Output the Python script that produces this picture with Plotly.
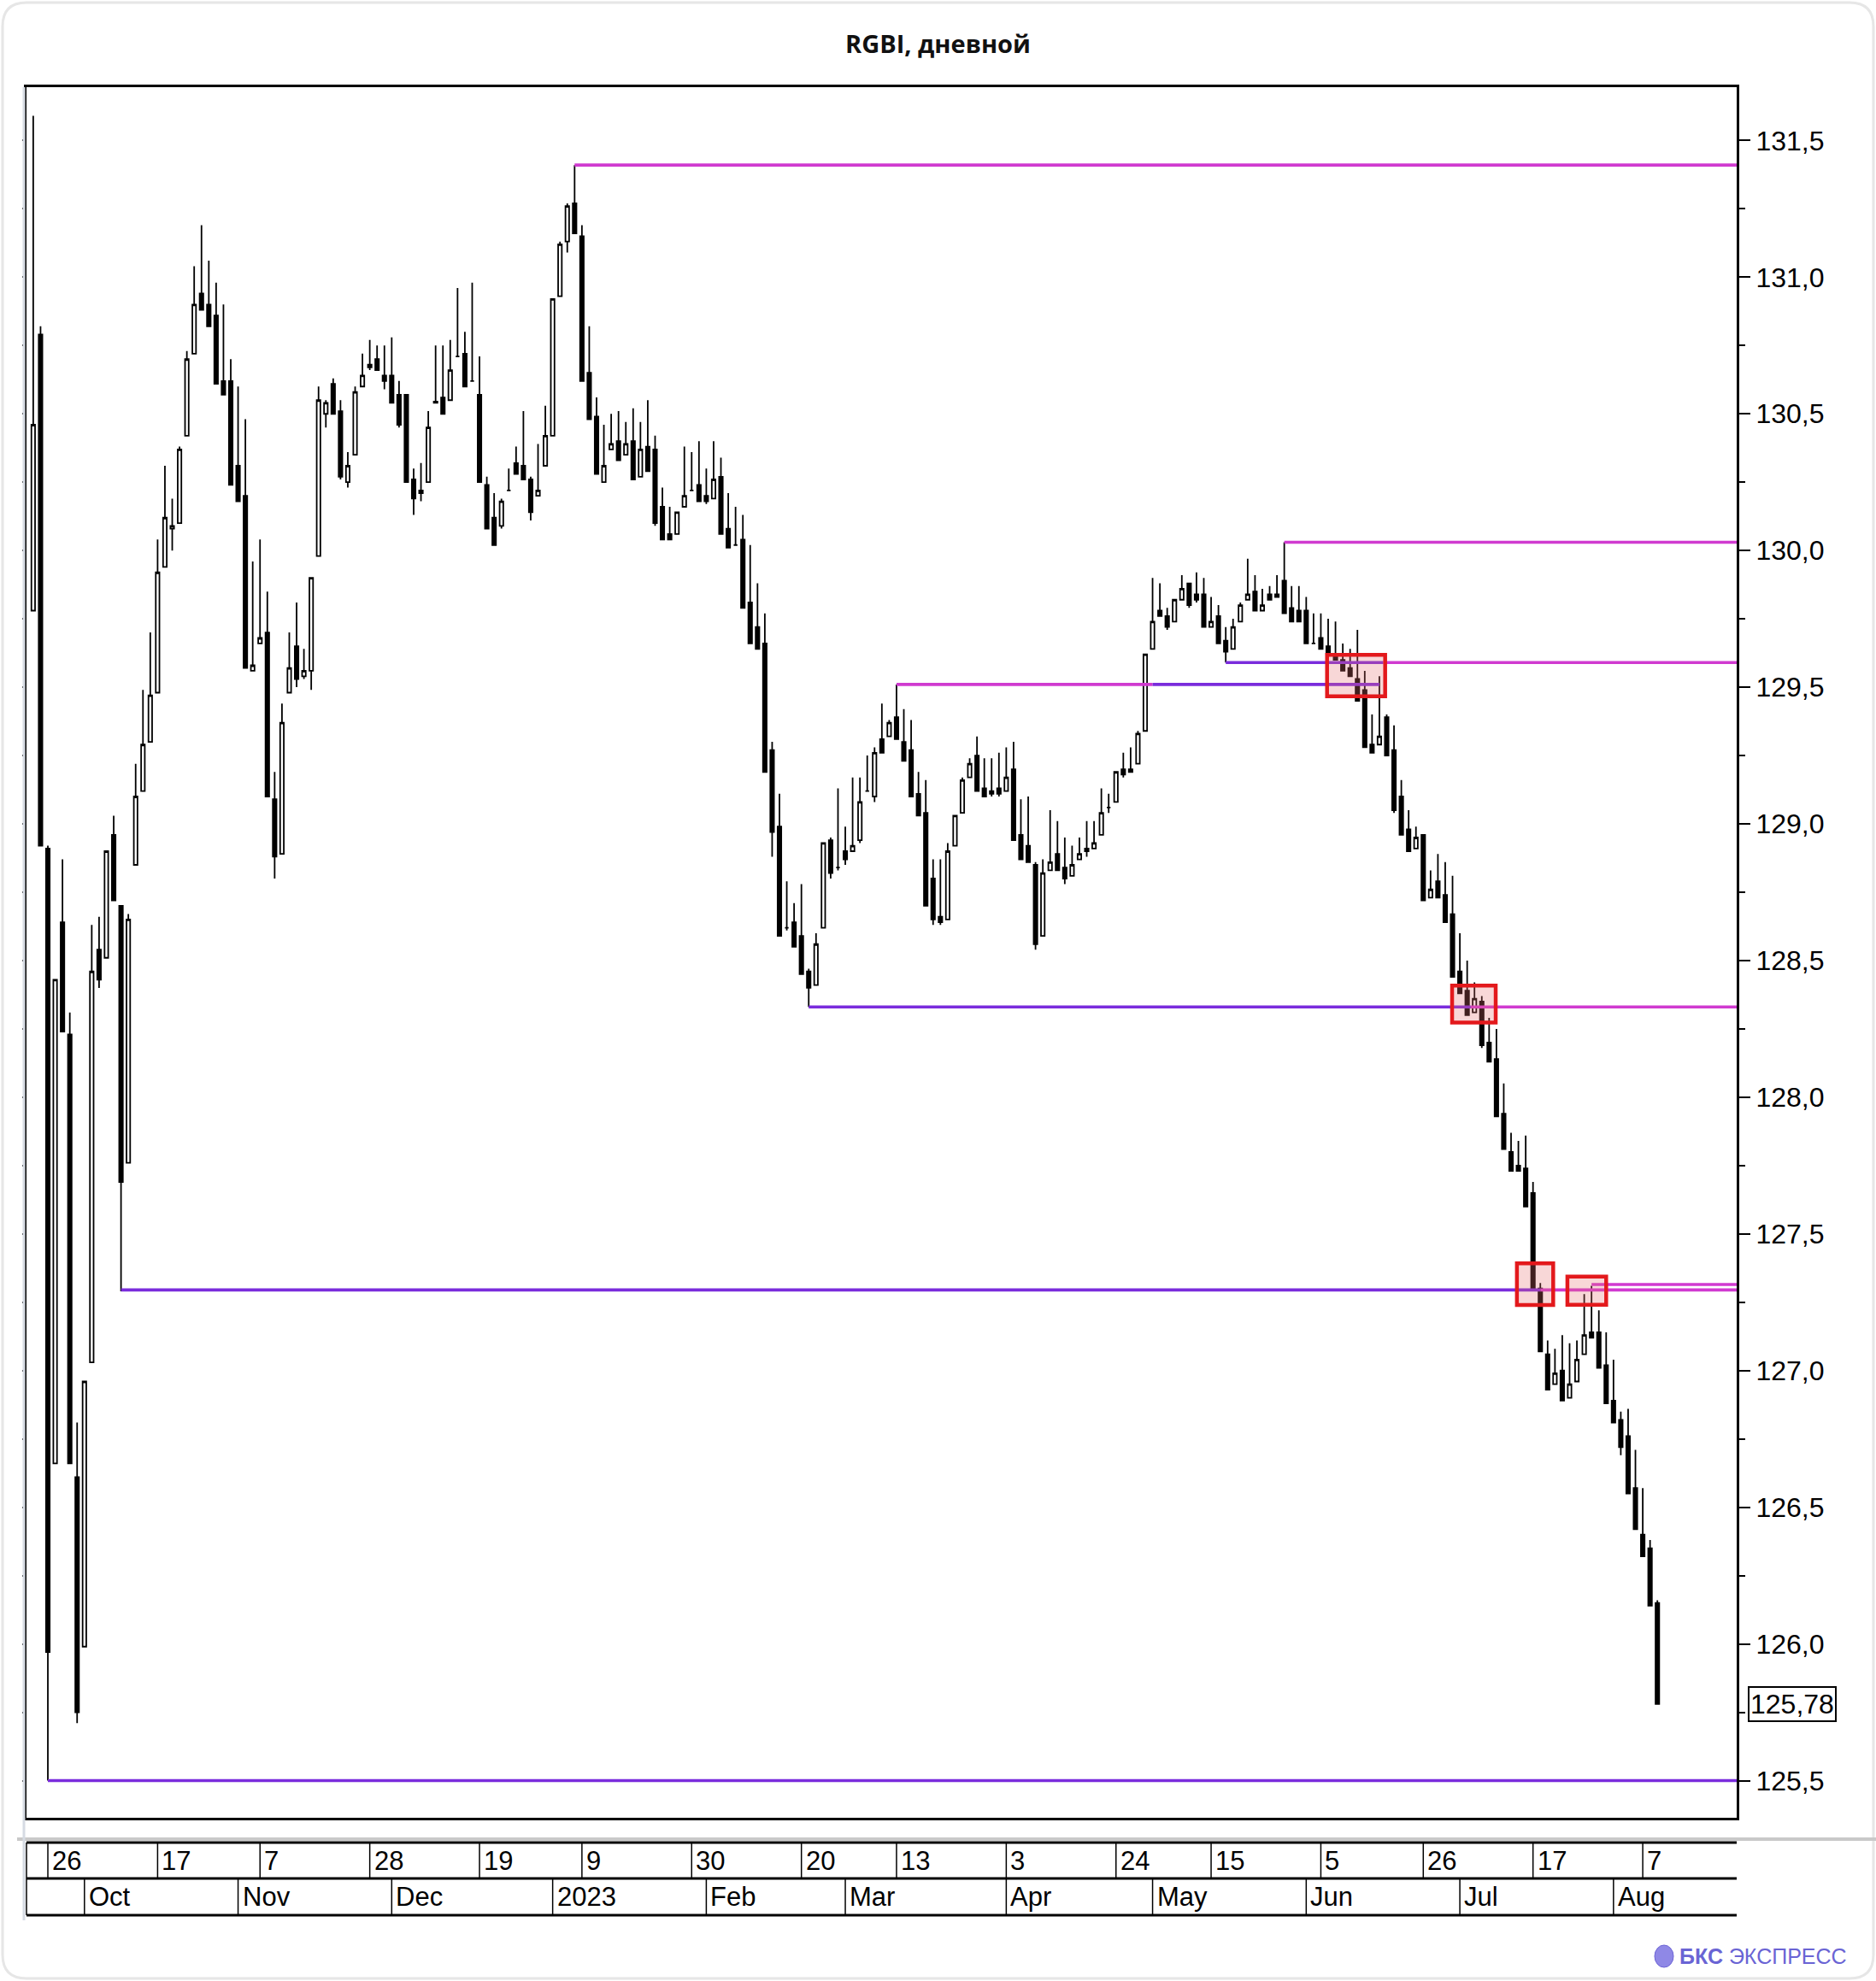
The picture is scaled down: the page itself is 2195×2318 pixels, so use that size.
import plotly.graph_objects as go

# ---------------- data ----------------
opens = [129.78,130.79,128.91,126.66,128.64,128.23,126.61,125.99,127.03,128.54,
         128.51,128.96,128.70,127.76,128.85,129.12,129.30,129.48,129.94,130.08,
         130.10,130.42,130.72,130.94,130.90,130.86,130.62,130.62,130.31,130.20,
         129.56,129.66,129.70,129.09,128.89,129.48,129.65,129.54,129.56,129.98,
         130.50,130.61,130.51,130.25,130.35,130.60,130.68,130.70,130.64,130.64,
         130.57,130.57,130.26,130.22,130.25,130.545,130.56,130.55,130.71,130.72,
         130.62,130.57,130.24,130.12,130.09,130.22,130.32,130.31,130.26,130.20,
         130.31,130.42,130.93,131.13,131.27,131.15,130.65,130.49,130.25,130.37,
         130.40,130.35,130.40,130.27,130.38,130.37,130.16,130.06,130.06,130.16,
         130.22,130.24,130.20,130.19,130.27,130.08,130.02,130.04,129.81,129.72,
         129.66,129.27,128.99,128.62,128.64,128.59,128.46,128.41,128.62,128.94,
         128.84,128.90,128.90,128.94,129.12,129.10,129.31,129.32,129.39,129.30,
         129.27,129.11,129.04,128.80,128.66,128.65,128.92,129.04,129.17,129.25,
         129.13,129.12,129.13,129.12,129.20,128.96,128.92,128.85,128.59,128.83,
         128.89,128.84,128.81,128.87,128.91,128.91,128.96,129.06,129.08,129.20,
         129.20,129.22,129.34,129.64,129.78,129.76,129.74,129.82,129.88,129.84,
         129.84,129.72,129.76,129.67,129.64,129.74,129.82,129.85,129.78,129.84,
         129.84,129.89,129.79,129.78,129.78,129.66,129.68,129.65,129.62,129.60,
         129.57,129.53,129.49,129.29,129.29,129.39,129.27,129.10,128.98,128.91,
         128.96,128.73,128.79,128.74,128.67,128.46,128.39,128.31,128.35,128.20,
         128.14,127.94,127.80,127.75,127.74,127.65,127.30,127.06,126.95,127.00,
         126.90,126.96,127.06,127.14,127.14,127.02,126.89,126.82,126.76,126.57,
         126.40,126.35,126.15]
highs = [131.59,130.82,128.92,128.43,128.87,128.31,126.81,126.96,128.63,128.66,
         128.90,129.03,128.70,128.67,129.22,129.49,129.70,130.04,130.31,130.19,
         130.38,130.73,131.04,131.19,131.06,130.98,130.90,130.70,130.60,130.48,
         129.96,130.04,129.85,129.19,129.44,129.70,129.81,129.64,129.90,130.60,
         130.55,130.63,130.55,130.36,130.60,130.72,130.77,130.75,130.75,130.78,
         130.62,130.57,130.30,130.32,130.51,130.75,130.75,130.77,130.96,130.80,
         130.98,130.71,130.27,130.21,130.19,130.30,130.38,130.51,130.27,130.39,
         130.53,130.92,131.13,131.27,131.41,131.19,130.82,130.56,130.46,130.50,
         130.51,130.47,130.52,130.47,130.55,130.42,130.23,130.16,130.14,130.38,
         130.36,130.40,130.30,130.40,130.34,130.21,130.16,130.13,130.02,129.88,
         129.77,129.30,129.11,128.79,128.71,128.78,128.47,128.60,128.93,128.95,
         129.13,128.99,129.17,129.17,129.25,129.28,129.44,129.38,129.51,129.42,
         129.38,129.19,129.16,128.87,128.87,128.93,129.03,129.17,129.24,129.32,
         129.24,129.24,129.26,129.28,129.30,129.09,129.10,128.86,128.87,129.05,
         129.01,128.95,128.92,128.95,129.01,129.01,129.13,129.11,129.19,129.26,
         129.28,129.34,129.62,129.90,129.88,129.79,129.82,129.91,129.88,129.92,
         129.90,129.83,129.80,129.72,129.75,129.81,129.97,129.91,129.86,129.87,
         129.91,130.03,129.87,129.87,129.83,129.77,129.77,129.75,129.74,129.66,
         129.64,129.71,129.56,129.40,129.54,129.40,129.36,129.16,129.05,128.99,
         128.96,128.83,128.89,128.86,128.81,128.60,128.50,128.42,128.37,128.29,
         128.25,128.05,127.87,127.84,127.86,127.69,127.32,127.11,127.08,127.13,
         127.10,127.11,127.28,127.31,127.22,127.14,127.04,126.85,126.86,126.71,
         126.57,126.38,126.16]
lows = [129.78,128.92,125.50,126.66,128.24,126.66,125.71,125.99,127.03,128.40,
        128.51,128.72,127.29,127.76,128.85,129.12,129.30,129.48,129.94,130.00,
        130.10,130.42,130.72,130.88,130.82,130.61,130.57,130.24,130.18,129.57,
        129.56,129.66,129.10,128.80,128.89,129.48,129.50,129.53,129.49,129.98,
        130.45,130.50,130.26,130.23,130.35,130.60,130.66,130.66,130.59,130.54,
        130.45,130.25,130.13,130.18,130.25,130.54,130.50,130.55,130.71,130.60,
        130.62,130.25,130.08,130.02,130.08,130.22,130.28,130.26,130.11,130.20,
        130.31,130.42,130.93,131.09,131.16,130.62,130.48,130.28,130.25,130.37,
        130.33,130.35,130.26,130.27,130.29,130.09,130.04,130.04,130.06,130.16,
        130.22,130.18,130.17,130.19,130.06,130.01,130.02,129.79,129.66,129.64,
        129.19,128.88,128.59,128.61,128.55,128.45,128.33,128.41,128.62,128.80,
        128.83,128.85,128.90,128.93,129.12,129.08,129.26,129.32,129.31,129.23,
        129.10,129.03,128.70,128.63,128.63,128.65,128.92,129.04,129.17,129.12,
        129.10,129.10,129.10,129.12,128.94,128.87,128.86,128.54,128.59,128.83,
        128.83,128.78,128.81,128.87,128.88,128.91,128.96,129.04,129.08,129.17,
        129.19,129.22,129.34,129.64,129.76,129.71,129.74,129.82,129.79,129.81,
        129.72,129.72,129.66,129.59,129.64,129.74,129.82,129.78,129.78,129.82,
        129.83,129.77,129.74,129.74,129.66,129.66,129.64,129.62,129.60,129.56,
        129.54,129.45,129.28,129.26,129.29,129.25,129.04,128.96,128.90,128.91,
        128.72,128.73,128.73,128.64,128.44,128.38,128.30,128.31,128.18,128.13,
        127.93,127.81,127.73,127.73,127.60,127.30,127.07,126.93,126.95,126.89,
        126.90,126.96,127.06,127.12,127.01,126.88,126.81,126.69,126.55,126.42,
        126.32,126.14,125.78]
closes = [130.46,128.92,125.97,128.43,128.24,126.66,125.75,126.96,128.46,128.43,
          128.90,128.72,127.69,128.65,129.10,129.29,129.47,129.92,130.12,130.09,
          130.37,130.70,130.90,130.88,130.82,130.61,130.57,130.24,130.18,129.57,
          129.58,129.68,129.10,128.88,129.37,129.57,129.53,129.56,129.90,130.55,
          130.54,130.50,130.27,130.31,130.58,130.64,130.67,130.66,130.62,130.54,
          130.46,130.25,130.19,130.21,130.45,130.54,130.50,130.66,130.71,130.60,
          130.62,130.25,130.08,130.02,130.18,130.22,130.28,130.26,130.14,130.22,
          130.42,130.92,131.12,131.26,131.16,130.62,130.48,130.28,130.31,130.39,
          130.33,130.39,130.26,130.37,130.29,130.10,130.04,130.04,130.14,130.20,
          130.22,130.18,130.18,130.26,130.06,130.01,130.02,129.79,129.66,129.64,
          129.19,128.97,128.59,128.62,128.55,128.45,128.40,128.56,128.93,128.82,
          128.84,128.87,128.92,129.08,129.12,129.26,129.26,129.37,129.31,129.23,
          129.10,129.03,128.70,128.65,128.64,128.90,129.03,129.16,129.22,129.12,
          129.10,129.11,129.11,129.17,128.94,128.87,128.86,128.56,128.82,128.86,
          128.83,128.80,128.85,128.89,128.90,128.93,129.04,129.06,129.19,129.18,
          129.19,129.33,129.62,129.74,129.76,129.72,129.82,129.86,129.80,129.82,
          129.72,129.74,129.66,129.63,129.72,129.80,129.84,129.78,129.80,129.82,
          129.83,129.77,129.74,129.74,129.66,129.66,129.64,129.62,129.60,129.56,
          129.54,129.45,129.28,129.26,129.32,129.25,129.05,128.96,128.90,128.95,
          128.72,128.76,128.73,128.64,128.44,128.38,128.30,128.36,128.19,128.13,
          127.93,127.81,127.73,127.73,127.60,127.30,127.07,126.93,126.99,126.89,
          126.95,127.04,127.13,127.12,127.01,126.88,126.81,126.72,126.55,126.42,
          126.32,126.14,125.78]

# day labels (top row of the date panel) and their trading-day index
day_tick_idx = [2, 17, 31, 46, 61, 75, 90, 105, 118, 133, 148, 161, 176, 190, 205, 220]
day_tick_lbl = ["26", "17", "7", "28", "19", "9", "30", "20", "13", "3", "24", "15", "5", "26", "17", "7"]
# month labels (bottom row)
month_idx = [7, 28, 49, 71, 92, 111, 133, 153, 174, 195, 216]
month_lbl = ["Oct", "Nov", "Dec", "2023", "Feb", "Mar", "Apr", "May", "Jun", "Jul", "Aug"]

# horizontal level segments: start index, end index (None = right edge), price, kind
lvl_start = [74, 171, 163, 184.5, 118, 153, 106, 196.5, 12, 206, 213, 2]
lvl_end   = [None, None, 184.5, None, 153, 184, 196.5, None, 206, None, None, None]
lvl_price = [131.41, 130.03, 129.59, 129.59, 129.51, 129.51, 128.33, 128.33, 127.295, 127.295, 127.315, 125.50]
lvl_kind  = ["res", "res", "sup", "res", "res", "sup", "sup", "res", "sup", "res", "res", "sup"]

# highlighted zones (red boxes)
box_x0 = [176.85, 193.94, 202.8, 209.7]
box_x1 = [184.79, 199.90, 207.76, 215.0]
box_lo = [129.467, 128.273, 127.240, 127.241]
box_hi = [129.618, 128.408, 127.392, 127.344]

# ---------------- layout constants ----------------
W, H = 2195, 2318
PL, PR, PT, PB = 31, 2032, 102, 2127
PW, PH = PR - PL, PB - PT
X_MIN, X_MAX = -0.92, 232.84
Y_MIN, Y_MAX = 125.364, 131.695
MAGENTA = "#d03ad0"
PURPLE = "#7a2cdc"
FONT = "Liberation Sans, Arial, sans-serif"


def px_x(xa):
    return (xa - PL) / PW


def px_y(ya):
    return (PB - ya) / PH


x = list(range(len(opens)))

fig = go.Figure()
fig.add_trace(go.Candlestick(
    x=x, open=opens, high=highs, low=lows, close=closes,
    increasing=dict(line=dict(color="black", width=1.8), fillcolor="white"),
    decreasing=dict(line=dict(color="black", width=1.8), fillcolor="black"),
    whiskerwidth=0, hoverinfo="skip", showlegend=False,
))

for s, e, p, k in zip(lvl_start, lvl_end, lvl_price, lvl_kind):
    fig.add_trace(go.Scatter(
        x=[s, X_MAX if e is None else e], y=[p, p], mode="lines",
        line=dict(color=MAGENTA if k == "res" else PURPLE, width=3.6),
        hoverinfo="skip", showlegend=False,
    ))

# dummy trace for the left minor-tick axis
fig.add_trace(go.Scatter(x=[None], y=[None], yaxis="y2", showlegend=False, hoverinfo="skip"))

shapes = []
for x0, x1, lo, hi in zip(box_x0, box_x1, box_lo, box_hi):
    shapes.append(dict(type="rect", xref="x", yref="y", x0=x0, x1=x1, y0=lo, y1=hi,
                       line=dict(color="#e3191c", width=4.5),
                       fillcolor="rgba(230,110,110,0.28)", layer="above"))

# date panel
y_gray = px_y(2152)
y_r1_top = px_y(2156)
y_r1_bot = px_y(2198)
y_r2_bot = px_y(2241)
shapes.append(dict(type="line", xref="paper", yref="paper", x0=px_x(20), x1=px_x(2195),
                   y0=y_gray, y1=y_gray, line=dict(color="#c9c9c9", width=4)))
for yy in (y_r1_top, y_r1_bot, y_r2_bot):
    shapes.append(dict(type="line", xref="paper", yref="paper", x0=0, x1=1,
                       y0=yy, y1=yy, line=dict(color="black", width=3)))
shapes.append(dict(type="line", xref="paper", yref="paper", x0=0, x1=0,
                   y0=y_r1_top, y1=y_r2_bot, line=dict(color="black", width=1.5)))
for xi in day_tick_idx:
    shapes.append(dict(type="line", xref="x", yref="paper", x0=xi, x1=xi,
                       y0=y_r1_top, y1=y_r1_bot, line=dict(color="black", width=1.5)))
for xi in month_idx:
    shapes.append(dict(type="line", xref="x", yref="paper", x0=xi, x1=xi,
                       y0=y_r1_bot, y1=y_r2_bot, line=dict(color="black", width=1.5)))
# left gray strip
shapes.append(dict(type="line", xref="paper", yref="paper", x0=px_x(28), x1=px_x(28),
                   y0=px_y(102), y1=px_y(2247), line=dict(color="#d6dbe3", width=3)))
# outer rounded frame
r = 28
fx0, fx1, fy0, fy1 = 3, W - 3, 3, H - 3
path = (f"M {px_x(fx0 + r)},{px_y(fy0)} L {px_x(fx1 - r)},{px_y(fy0)} "
        f"Q {px_x(fx1)},{px_y(fy0)} {px_x(fx1)},{px_y(fy0 + r)} "
        f"L {px_x(fx1)},{px_y(fy1 - r)} Q {px_x(fx1)},{px_y(fy1)} {px_x(fx1 - r)},{px_y(fy1)} "
        f"L {px_x(fx0 + r)},{px_y(fy1)} Q {px_x(fx0)},{px_y(fy1)} {px_x(fx0)},{px_y(fy1 - r)} "
        f"L {px_x(fx0)},{px_y(fy0 + r)} Q {px_x(fx0)},{px_y(fy0)} {px_x(fx0 + r)},{px_y(fy0)} Z")
shapes.append(dict(type="path", xref="paper", yref="paper", path=path,
                   line=dict(color="#e6e6e6", width=3), layer="below"))
# logo sphere
shapes.append(dict(type="circle", xref="paper", yref="paper",
                   x0=px_x(1936), x1=px_x(1958), y0=px_y(2302), y1=px_y(2276),
                   fillcolor="#8f88e6", line=dict(color="#6c63d6", width=1)))

annotations = []
for xi, t in zip(day_tick_idx, day_tick_lbl):
    annotations.append(dict(x=xi, y=(y_r1_top + y_r1_bot) / 2, xref="x", yref="paper",
                            text=t, showarrow=False, xanchor="left", yanchor="middle",
                            xshift=3, font=dict(family=FONT, size=31, color="black")))
for xi, t in zip(month_idx, month_lbl):
    annotations.append(dict(x=xi, y=(y_r1_bot + y_r2_bot) / 2, xref="x", yref="paper",
                            text=t, showarrow=False, xanchor="left", yanchor="middle",
                            xshift=3, font=dict(family=FONT, size=31, color="black")))
last = closes[-1]
annotations.append(dict(x=px_x(2045), y=last, xref="paper", yref="y",
                        text=f"{last:.2f}".replace(".", ","), showarrow=False,
                        xanchor="left", yanchor="middle", bordercolor="black", borderwidth=2,
                        borderpad=1, bgcolor="white",
                        font=dict(family=FONT, size=32, color="black")))
annotations.append(dict(x=px_x(2163), y=px_y(2289), xref="paper", yref="paper",
                        text="<b>БКС</b> ЭКСПРЕСС", showarrow=False,
                        xanchor="right", yanchor="middle",
                        font=dict(family=FONT, size=25, color="#6a64d4")))

fig.update_layout(
    width=W, height=H,
    margin=dict(l=PL, r=W - PR, t=PT, b=H - PB, pad=0),
    paper_bgcolor="white", plot_bgcolor="white",
    separators=", ",
    showlegend=False,
    boxgap=0.5, boxgroupgap=0,
    title=dict(text="<b>RGBI, дневной</b>", x=0.5, xref="container", xanchor="center",
               y=1 - 52 / H, yref="container", yanchor="middle",
               font=dict(family="Open Sans, sans-serif", size=29, color="#111111")),
    xaxis=dict(range=[X_MIN, X_MAX], showgrid=False, zeroline=False, showticklabels=False,
               ticks="", showline=True, mirror=True, linecolor="black", linewidth=3,
               rangeslider=dict(visible=False), fixedrange=True),
    yaxis=dict(range=[Y_MIN, Y_MAX], side="right", tickmode="linear", tick0=125.5, dtick=0.5,
               tickformat=".1f", ticks="outside", ticklen=13, tickwidth=2, tickcolor="black",
               showline=True, mirror=True, linecolor="black", linewidth=3,
               showgrid=False, zeroline=False,
               tickfont=dict(family=FONT, size=32, color="black"),
               minor=dict(ticks="outside", ticklen=7, tickwidth=2, tickcolor="black",
                          tick0=125.25, dtick=0.25, showgrid=False),
               fixedrange=True),
    yaxis2=dict(range=[Y_MIN, Y_MAX], overlaying="y", side="left", anchor="x",
                tickmode="linear", tick0=125.25, dtick=0.25, ticks="outside", ticklen=4,
                tickwidth=1.5, tickcolor="black", showticklabels=False, showgrid=False,
                zeroline=False, showline=False, fixedrange=True),
    shapes=shapes,
    annotations=annotations,
)

fig.write_html("out.html", config={"displayModeBar": False},
               post_script="document.body.style.margin='0';")
